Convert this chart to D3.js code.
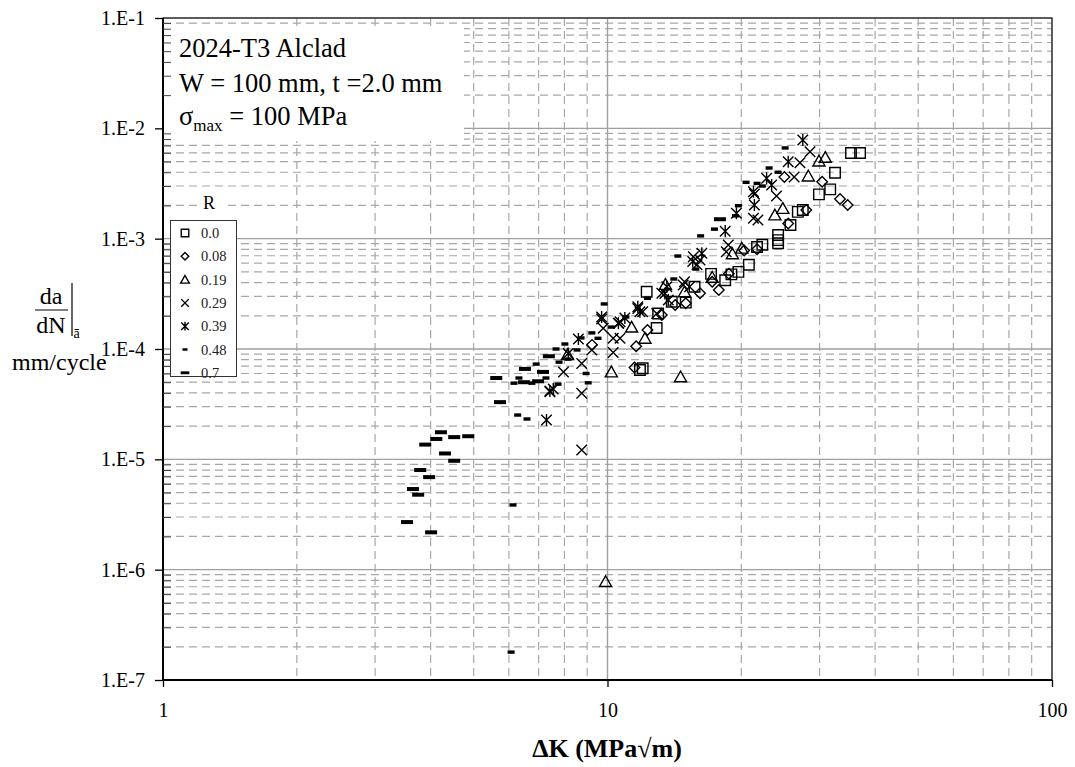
<!DOCTYPE html>
<html><head><meta charset="utf-8">
<script src="https://cdn.jsdelivr.net/npm/d3@7"></script>
<style>body{margin:0;background:#fff} svg{display:block}</style>
</head><body>
<svg id="c" width="1075" height="767"></svg>
<script>
const xTicks=[1,10,100];
const xTickLabels=["1","10","100"];
const yTicks=[1e-7,1e-6,1e-5,1e-4,1e-3,1e-2,1e-1];
const yTickLabels=["1.E-7","1.E-6","1.E-5","1.E-4","1.E-3","1.E-2","1.E-1"];
const seriesNames=["0.0","0.08","0.19","0.29","0.39","0.48","0.7"];
const legendTitle="R";
const infoLines=["2024-T3 Alclad","W = 100 mm, t =2.0 mm"];

// [ΔK (MPa√m), da/dN (mm/cycle)]
const r000=[[35.3,5.97e-3],[37.0,5.97e-3],[32.5,3.96e-3],[31.7,2.80e-3],[29.9,2.52e-3],[26.8,1.75e-3],[27.5,1.82e-3],[25.8,1.33e-3],[24.2,1.08e-3],[24.2,9.7e-4],[24.2,9.1e-4],[22.3,8.8e-4],[21.7,8.4e-4],[20.8,5.8e-4],[19.7,5.0e-4],[19.0,4.75e-4],[18.4,4.2e-4],[17.1,4.8e-4],[12.25,3.3e-4],[15.7,3.67e-4],[15.0,2.63e-4],[13.95,2.68e-4],[12.9,1.55e-4],[11.83,6.45e-5],[12.0,6.7e-5],[13.0,2.1e-4]];
const r008=[[34.7,2.02e-3],[33.35,2.29e-3],[30.4,3.28e-3],[28.0,1.82e-3],[25.5,1.37e-3],[21.7,8.0e-4],[20.3,7.8e-4],[18.75,4.8e-4],[17.8,3.42e-4],[16.15,3.2e-4],[15.0,2.6e-4],[14.2,2.5e-4],[13.25,2.03e-4],[12.3,1.49e-4],[11.6,1.06e-4],[11.5,6.8e-5],[25.0,3.62e-3],[17.2,4.07e-4],[9.23,1.09e-4]];
const r019=[[30.9,5.46e-3],[29.9,5.06e-3],[28.3,3.7e-3],[24.8,1.88e-3],[23.8,1.64e-3],[20.05,8.2e-4],[19.1,7.3e-4],[17.2,4.47e-4],[13.5,3.85e-4],[14.9,3.3e-4],[11.33,1.58e-4],[12.14,1.25e-4],[10.2,6.2e-5],[14.6,5.6e-5],[8.13,8.9e-5],[9.9,7.8e-7]];
const r029=[[28.55,6.14e-3],[27.1,4.88e-3],[26.3,3.62e-3],[24.0,2.44e-3],[21.4,2.54e-3],[21.3,1.53e-3],[21.8,1.48e-3],[18.7,8.76e-4],[18.5,7.6e-4],[16.15,6.41e-4],[15.9,5.8e-4],[14.8,3.8e-4],[15.3,3.67e-4],[13.25,3.2e-4],[11.7,2.33e-4],[10.6,1.71e-4],[10.3,1.25e-4],[10.3,9.3e-5],[9.7,1.87e-4],[9.22,9.8e-5],[8.75,7.4e-5],[7.96,6.2e-5],[8.75,3.97e-5],[9.78,1.54e-4],[10.67,1.77e-4],[12.0,2.18e-4],[12.9,2.1e-4],[14.9,4.07e-4],[15.6,6.86e-4],[7.42,4.1e-5],[8.75,1.215e-5],[10.67,1.25e-4]];
const r039=[[27.5,7.84e-3],[25.5,4.98e-3],[22.8,3.52e-3],[23.4,3.06e-3],[21.3,2.66e-3],[21.4,2.02e-3],[19.5,1.7e-3],[18.4,1.17e-3],[16.3,7.36e-4],[15.55,6.2e-4],[13.46,3.19e-4],[13.7,2.78e-4],[11.7,2.41e-4],[11.83,2.18e-4],[10.94,1.91e-4],[9.7,1.95e-4],[8.6,1.23e-4],[8.16,9.1e-5],[7.42,4.16e-5],[7.55,4.34e-5],[7.29,2.27e-5],[10.58,1.71e-4],[13.6,3.67e-4]];
const r048=[[6.07,1.79e-7],[6.13,3.86e-6],[6.28,2.52e-5],[6.59,2.32e-5],[6.16,4.9e-5],[6.76,4.9e-5],[6.91,7.3e-5],[6.32,5.46e-5],[7.27,5.46e-5],[7.66,1.0e-4],[7.78,7.6e-5],[7.74,4.8e-5],[8.02,1.11e-4],[8.15,8.1e-5],[8.54,9.8e-5],[8.72,1.26e-4],[8.95,6.0e-5],[9.05,4.94e-5],[9.22,1.40e-4],[9.52,1.25e-4],[9.83,2.56e-4],[10.2,1.58e-4],[11.0,1.95e-4],[12.3,2.88e-4],[14.1,4.31e-4],[14.4,6.96e-4],[15.8,5.3e-4],[16.2,1.06e-3],[17.4,1.22e-3],[19.4,1.61e-3],[19.7,1.99e-3],[20.5,3.24e-3],[21.7,3.17e-3],[22.3,3.0e-3],[23.1,4.37e-3],[24.2,4.0e-3],[25.1,6.64e-3]];
const r070=[[3.54,2.7e-6],[3.65,5.38e-6],[3.75,4.78e-6],[3.79,8.0e-6],[3.97,6.9e-6],[3.89,1.36e-5],[4.01,2.18e-6],[4.12,1.53e-5],[4.22,1.76e-5],[4.31,1.13e-5],[4.52,1.59e-5],[4.52,9.7e-6],[4.86,1.62e-5],[5.62,5.46e-5],[5.73,3.3e-5],[6.49,5.0e-5],[6.52,6.6e-5],[7.16,6.2e-5],[7.38,8.6e-5],[6.98,5.1e-5],[17.9,1.5e-3]];

const seriesData=[r000,r008,r019,r029,r039,r048,r070];
const markerTypes=["square","diamond","triangle","x","star","dashS","dashL"];

const FONT="'Liberation Serif','Times New Roman',serif";
const L=163,R=1052,T=18,B=680;
const svg=d3.select("#c");
const x=d3.scaleLog().domain([1,100]).range([L,R]);
const y=d3.scaleLog().domain([1e-7,1e-1]).range([B,T]);

// minor positions
const xMinor=[];[1,10].forEach(d=>{for(let k=2;k<=9;k++)xMinor.push(d*k);});
const yMinor=[];for(let e=-7;e<=-2;e++){for(let k=2;k<=9;k++)yMinor.push(k*Math.pow(10,e));}

const g=svg.append("g");
g.selectAll(".vmin").data(xMinor).join("line").attr("x1",d=>x(d)).attr("x2",d=>x(d)).attr("y1",T).attr("y2",B)
 .attr("stroke","#a8a8a8").attr("stroke-width",1.2).attr("stroke-dasharray","8,5");
g.selectAll(".hmin").data(yMinor).join("line").attr("x1",L).attr("x2",R).attr("y1",d=>y(d)).attr("y2",d=>y(d))
 .attr("stroke","#a8a8a8").attr("stroke-width",1.2).attr("stroke-dasharray","8,5");
g.selectAll(".vmaj").data(xTicks).join("line").attr("x1",d=>x(d)).attr("x2",d=>x(d)).attr("y1",T).attr("y2",B)
 .attr("stroke","#a0a0a0").attr("stroke-width",1.4);
g.selectAll(".hmaj").data(yTicks).join("line").attr("x1",L).attr("x2",R).attr("y1",d=>y(d)).attr("y2",d=>y(d))
 .attr("stroke","#a0a0a0").attr("stroke-width",1.4);

function mpath(type,s){
  const h=s/2;
  switch(type){
    case "square": return `M${-h},${-h}h${s}v${s}h${-s}Z`;
    case "diamond": return `M0,${-h}L${h},0L0,${h}L${-h},0Z`;
    case "triangle": {const w=s*0.55;return `M0,${-s*0.52}L${w},${s*0.45}L${-w},${s*0.45}Z`;}
    case "x": return `M${-h},${-h}L${h},${h}M${-h},${h}L${h},${-h}`;
    case "star": return `M${-h},${-h}L${h},${h}M${-h},${h}L${h},${-h}M0,${-h*1.15}L0,${h*1.15}`;
  }
}
function drawMarker(sel,type,scale){
  if(type==="dashS"){
    sel.append("rect").attr("x",-3.5*scale).attr("y",-1.7*scale).attr("width",7*scale).attr("height",3.4*scale).attr("fill","#000");
  } else if(type==="dashL"){
    sel.append("rect").attr("x",-6*scale).attr("y",-2*scale).attr("width",12*scale).attr("height",4*scale).attr("fill","#000");
  } else {
    const sz={square:10.5,diamond:10.5,triangle:11,x:10.5,star:10.5}[type]*scale;
    sel.append("path").attr("d",mpath(type,sz)).attr("fill","none").attr("stroke","#000").attr("stroke-width",1.4);
  }
}

const dg=svg.append("g");
seriesData.forEach((arr,i)=>{
  const sg=dg.append("g");
  sg.selectAll("g").data(arr).join("g")
    .attr("transform",d=>`translate(${x(d[0])},${y(d[1])})`)
    .each(function(){drawMarker(d3.select(this),markerTypes[i],1);});
});

// info box
svg.append("rect").attr("x",L+1).attr("y",27).attr("width",300).attr("height",114).attr("fill","#fff");
const info=svg.append("g").attr("font-family",FONT).attr("font-size",26.5).attr("fill","#000");
info.append("text").attr("x",179).attr("y",57).text(infoLines[0]);
info.append("text").attr("x",179).attr("y",92).text(infoLines[1]);
const t3=info.append("text").attr("x",179).attr("y",125);
t3.append("tspan").text("σ");
t3.append("tspan").attr("font-size",17).attr("dy",6).text("max");
t3.append("tspan").attr("dy",-6).text(" = 100 MPa");

// legend
svg.append("rect").attr("x",197).attr("y",192).attr("width",26).attr("height",22).attr("fill","#fff");
svg.append("text").attr("x",209).attr("y",209).attr("text-anchor","middle").attr("font-family",FONT).attr("font-size",18).text(legendTitle);
svg.append("rect").attr("x",170.5).attr("y",220.5).attr("width",66).attr("height",156).attr("fill","#fff").attr("stroke","#333").attr("stroke-width",1);
seriesNames.forEach((nm,i)=>{
  const yy=233+i*23.3;
  const lg=svg.append("g").attr("transform",`translate(185,${yy})`);
  drawMarker(lg,markerTypes[i],0.72);
  svg.append("text").attr("x",201).attr("y",yy+5).attr("font-family",FONT).attr("font-size",14.5).attr("fill","#222").text(nm);
});

// frame
svg.append("rect").attr("x",L).attr("y",T).attr("width",R-L).attr("height",B-T).attr("fill","none").attr("stroke","#000").attr("stroke-width",1);
svg.append("line").attr("x1",L).attr("x2",L).attr("y1",T).attr("y2",B).attr("stroke","#000").attr("stroke-width",2);
svg.append("line").attr("x1",L).attr("x2",R).attr("y1",B).attr("y2",B).attr("stroke","#000").attr("stroke-width",2);

// y axis
const yAxis=d3.axisLeft(y).tickValues(yTicks).tickSize(8).tickPadding(10).tickFormat((d,i)=>yTickLabels[i]);
const ya=svg.append("g").attr("transform",`translate(${L},0)`).call(yAxis);
ya.select(".domain").remove();
ya.selectAll("line").attr("stroke","#000").attr("stroke-width",1.3);
ya.selectAll("text").attr("font-family",FONT).attr("font-size",20).attr("fill","#000");
const yMinAxis=d3.axisLeft(y).tickValues(yMinor).tickSize(-8).tickFormat("");
const ym=svg.append("g").attr("transform",`translate(${L},0)`).call(yMinAxis);
ym.select(".domain").remove();
ym.selectAll("line").attr("stroke","#444").attr("stroke-width",1);

// x axis
const xAxis=d3.axisBottom(x).tickValues(xTicks).tickSize(7).tickPadding(16).tickFormat((d,i)=>xTickLabels[i]);
const xa=svg.append("g").attr("transform",`translate(0,${B})`).call(xAxis);
xa.select(".domain").remove();
xa.selectAll("line").attr("stroke","#000").attr("stroke-width",1.3);
xa.selectAll("text").attr("font-family",FONT).attr("font-size",20).attr("fill","#000");

svg.append("text").attr("x",607).attr("y",757).attr("text-anchor","middle").attr("font-family",FONT)
  .attr("font-size",26).attr("font-weight","bold").text("ΔK (MPa√m)");

const yl=svg.append("g").attr("font-family",FONT).attr("font-size",24).attr("fill","#000");
yl.append("text").attr("x",51).attr("y",304).attr("text-anchor","middle").text("da");
yl.append("line").attr("x1",35).attr("x2",68).attr("y1",310).attr("y2",310).attr("stroke","#000").attr("stroke-width",1.2);
yl.append("text").attr("x",51).attr("y",333).attr("text-anchor","middle").text("dN");
yl.append("line").attr("x1",72).attr("x2",72).attr("y1",283).attr("y2",336).attr("stroke","#000").attr("stroke-width",1.2);
yl.append("text").attr("x",73.5).attr("y",338).attr("font-size",14).text("ā");
yl.append("text").attr("x",12).attr("y",370).text("mm/cycle");
</script>
</body></html>
